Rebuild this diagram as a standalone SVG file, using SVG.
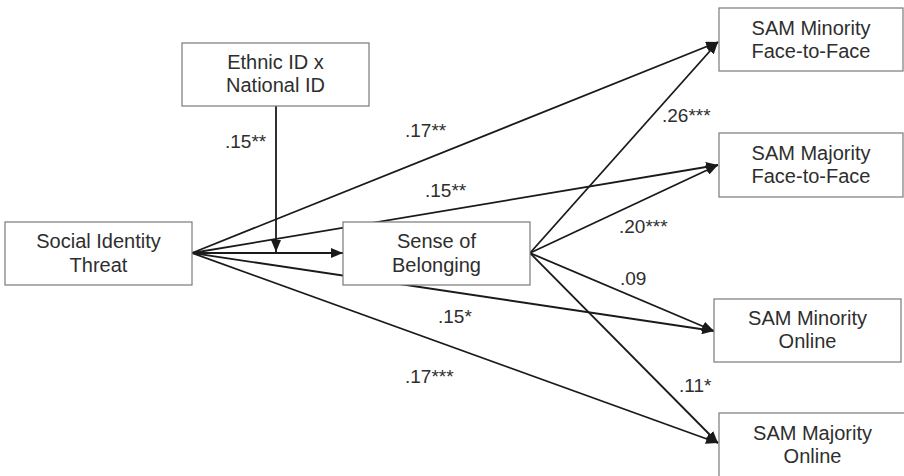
<svg xmlns="http://www.w3.org/2000/svg" width="904" height="476" viewBox="0 0 904 476">
<style>
.box{fill:#fff;stroke:#7a7a7a;stroke-width:1.2}
.t{font-family:"Liberation Sans",Arial,sans-serif;font-size:20px;fill:#2e2e2e;text-anchor:middle}
.lab{font-family:"Liberation Sans",Arial,sans-serif;font-size:19px;fill:#2e2e2e}
.c{stroke:#1a1a1a;stroke-width:1.8;fill:none}
</style>
<defs>
<marker id="ah" viewBox="0 0 12 10" refX="12" refY="5" markerWidth="12" markerHeight="10" markerUnits="userSpaceOnUse" orient="auto">
<path d="M0,0 L12,5 L0,10 Z" fill="#1a1a1a"/>
</marker>
</defs>
<rect width="904" height="476" fill="#fff"/>
<g id="connectors">
<line class="c" x1="192" y1="253" x2="718" y2="42" marker-end="url(#ah)"/>
<line class="c" x1="192" y1="253" x2="718" y2="165" marker-end="url(#ah)"/>
<line class="c" x1="192" y1="253" x2="714" y2="331" marker-end="url(#ah)"/>
<line class="c" x1="192" y1="253" x2="718" y2="443" marker-end="url(#ah)"/>
<line class="c" x1="192" y1="253" x2="343" y2="253" marker-end="url(#ah)"/>
<line class="c" x1="276" y1="106" x2="276" y2="252" marker-end="url(#ah)"/>
<line class="c" x1="530" y1="253" x2="718" y2="42" marker-end="url(#ah)"/>
<line class="c" x1="530" y1="253" x2="718" y2="165" marker-end="url(#ah)"/>
<line class="c" x1="530" y1="253" x2="714" y2="331" marker-end="url(#ah)"/>
<line class="c" x1="530" y1="253" x2="718" y2="443" marker-end="url(#ah)"/>
</g>
<g id="sit">
<rect class="box" x="5" y="222" width="187" height="63"/>
<text class="t" x="98.5" y="248">Social Identity</text>
<text class="t" x="98.5" y="272">Threat</text>
</g>
<g id="ethnic">
<rect class="box" x="182" y="43" width="187" height="63"/>
<text class="t" x="275.5" y="69">Ethnic ID x</text>
<text class="t" x="275.5" y="92">National ID</text>
</g>
<g id="belonging">
<rect class="box" x="343" y="222" width="187" height="63"/>
<text class="t" x="436.5" y="248">Sense of</text>
<text class="t" x="436.5" y="272">Belonging</text>
</g>
<g id="minf2f">
<rect class="box" x="719" y="8" width="184" height="63"/>
<text class="t" x="811" y="35">SAM Minority</text>
<text class="t" x="811" y="58">Face-to-Face</text>
</g>
<g id="majf2f">
<rect class="box" x="719" y="133" width="184" height="64"/>
<text class="t" x="811" y="160">SAM Majority</text>
<text class="t" x="811" y="183">Face-to-Face</text>
</g>
<g id="minonline">
<rect class="box" x="714" y="299" width="187" height="63"/>
<text class="t" x="807.5" y="325">SAM Minority</text>
<text class="t" x="807.5" y="348">Online</text>
</g>
<g id="majonline">
<rect class="box" x="719" y="413" width="187" height="66"/>
<text class="t" x="812.5" y="440">SAM Majority</text>
<text class="t" x="812.5" y="463">Online</text>
</g>
<g id="labels">
<text class="lab" x="225" y="148">.15**</text>
<text class="lab" x="405" y="137">.17**</text>
<text class="lab" x="425" y="197">.15**</text>
<text class="lab" x="438" y="323">.15*</text>
<text class="lab" x="405" y="383">.17***</text>
<text class="lab" x="662" y="122">.26***</text>
<text class="lab" x="619" y="233">.20***</text>
<text class="lab" x="620" y="285">.09</text>
<text class="lab" x="679" y="392">.11*</text>
</g>
</svg>
